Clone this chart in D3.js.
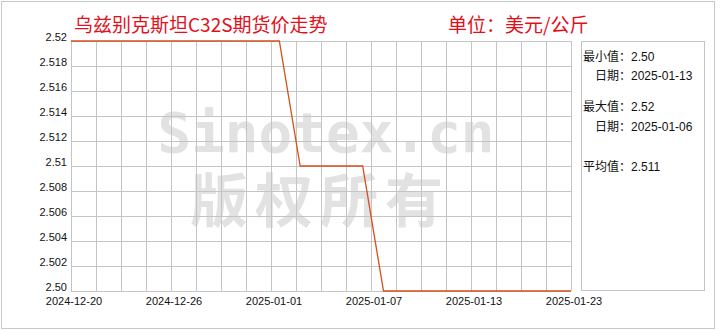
<!DOCTYPE html>
<html>
<head>
<meta charset="utf-8">
<title>乌兹别克斯坦C32S期货价走势</title>
<script src="https://d3js.org/d3.v7.min.js"></script>
<style>
  body { margin: 0; background: #fff; }
  text { font-family: "Liberation Sans", "Noto Sans CJK SC", sans-serif; }
</style>
</head>
<body>
<svg id="svg" width="720" height="330"></svg>
<script>
// data
const dates = ["2024-12-20","2024-12-23","2024-12-24","2024-12-25","2024-12-26","2024-12-27",
  "2024-12-30","2024-12-31","2025-01-02","2025-01-03","2025-01-06","2025-01-07","2025-01-08",
  "2025-01-09","2025-01-10","2025-01-13","2025-01-14","2025-01-15","2025-01-16","2025-01-17",
  "2025-01-20","2025-01-21","2025-01-22","2025-01-23","2025-01-24"];
const prices = [2.52,2.52,2.52,2.52,2.52,2.52,2.52,2.52,2.52,2.52,2.52,
  2.51,2.51,2.51,2.51,
  2.50,2.50,2.50,2.50,2.50,2.50,2.50,2.50,2.50,2.50];
const yTicks = [2.50,2.502,2.504,2.506,2.508,2.51,2.512,2.514,2.516,2.518,2.52];
const yTickLabels = ["2.50","2.502","2.504","2.506","2.508","2.51","2.512","2.514","2.516","2.518","2.52"];
const xTickLabels = ["2024-12-20","2024-12-26","2025-01-01","2025-01-07","2025-01-13","2025-01-23"];
const xTickSlots = [0,4,8,12,16,20];
const statLines = [
  ["最小值：", "2.50"],
  ["　日期：", "2025-01-13"],
  ["最大值：", "2.52"],
  ["　日期：", "2025-01-06"],
  ["平均值：", "2.511"]
];

const svg = d3.select("#svg");
const pLeft = 71, pRight = 571, pTop = 41, pBottom = 291;

// outer frame
svg.append("rect")
  .attr("x", 1.5).attr("y", 1.5).attr("width", 713).attr("height", 327)
  .attr("fill", "none").attr("stroke", "#c8c8c8");

// watermark
svg.append("text")
  .attr("x", 326).attr("y", 152)
  .attr("text-anchor", "middle")
  .style("font-family", "'DejaVu Sans Mono', monospace")
  .style("font-weight", "bold")
  .style("font-size", "56px")
  .attr("fill", "#e2e2e2")
  .text("Sinotex.cn");
svg.append("text")
  .attr("x", 320).attr("y", 222)
  .attr("text-anchor", "middle")
  .style("font-family", "'Noto Sans CJK SC', sans-serif")
  .style("font-weight", "bold")
  .style("font-size", "58px")
  .style("letter-spacing", "7px")
  .attr("fill", "#e2e2e2")
  .text("版权所有");

//scales
const xGrid = d3.scaleLinear().domain([0, 20]).range([pLeft, pRight]);
const x = d3.scalePoint().domain(dates).range([pLeft, pRight]);
const y = d3.scaleLinear().domain([2.50, 2.52]).range([pBottom, pTop]);

const g = svg.append("g");

// grid
g.selectAll(".vgrid").data(d3.range(21)).join("line")
  .attr("x1", d => xGrid(d) + 0.5).attr("x2", d => xGrid(d) + 0.5)
  .attr("y1", pTop).attr("y2", pBottom)
  .attr("stroke", "#c4c4c4");
g.selectAll(".hgrid").data(yTicks).join("line")
  .attr("x1", pLeft).attr("x2", pRight)
  .attr("y1", d => Math.round(y(d)) + 0.5).attr("y2", d => Math.round(y(d)) + 0.5)
  .attr("stroke", "#c4c4c4");

// y labels
g.selectAll(".ylab").data(yTicks).join("text")
  .attr("x", 67).attr("y", d => y(d) + 0)
  .attr("text-anchor", "end")
  .style("font-size", "11px")
  .attr("fill", "#111")
  .text((d, i) => yTickLabels[i]);

// x labels
g.selectAll(".xlab").data(xTickSlots).join("text")
  .attr("x", d => xGrid(d) + 3).attr("y", 305)
  .attr("text-anchor", "middle")
  .style("font-size", "11px")
  .attr("fill", "#111")
  .text((d, i) => xTickLabels[i]);

// price line
const line = d3.line()
  .x((d, i) => x(dates[i]))
  .y(d => y(d));
g.append("path")
  .datum(prices)
  .attr("d", line)
  .attr("fill", "none")
  .attr("stroke", "#d4501c")
  .attr("stroke-width", 1.3);

// titles
svg.append("text")
  .attr("x", 74).attr("y", 32)
  .style("font-family", "'Noto Sans CJK SC', sans-serif")
  .style("font-size", "19px")
  .attr("fill", "#e3101c")
  .text("乌兹别克斯坦C32S期货价走势");
svg.append("text")
  .attr("x", 448).attr("y", 32)
  .style("font-family", "'Noto Sans CJK SC', sans-serif")
  .style("font-size", "19px")
  .attr("fill", "#e3101c")
  .text("单位：美元/公斤");

// stats box
svg.append("rect")
  .attr("x", 581.5).attr("y", 41.5).attr("width", 123).attr("height", 249)
  .attr("fill", "none").attr("stroke", "#c4c4c4");

const statY = [61, 80, 111, 131, 171];
const stats = svg.append("g");
statLines.forEach((s, i) => {
  const t = stats.append("text")
    .attr("x", 583).attr("y", statY[i])
    .style("font-size", "12px")
    .attr("fill", "#111");
  t.append("tspan").style("font-family", "'Noto Sans CJK SC', sans-serif").text(s[0]);
  t.append("tspan").text(s[1]);
});
</script>
</body>
</html>
